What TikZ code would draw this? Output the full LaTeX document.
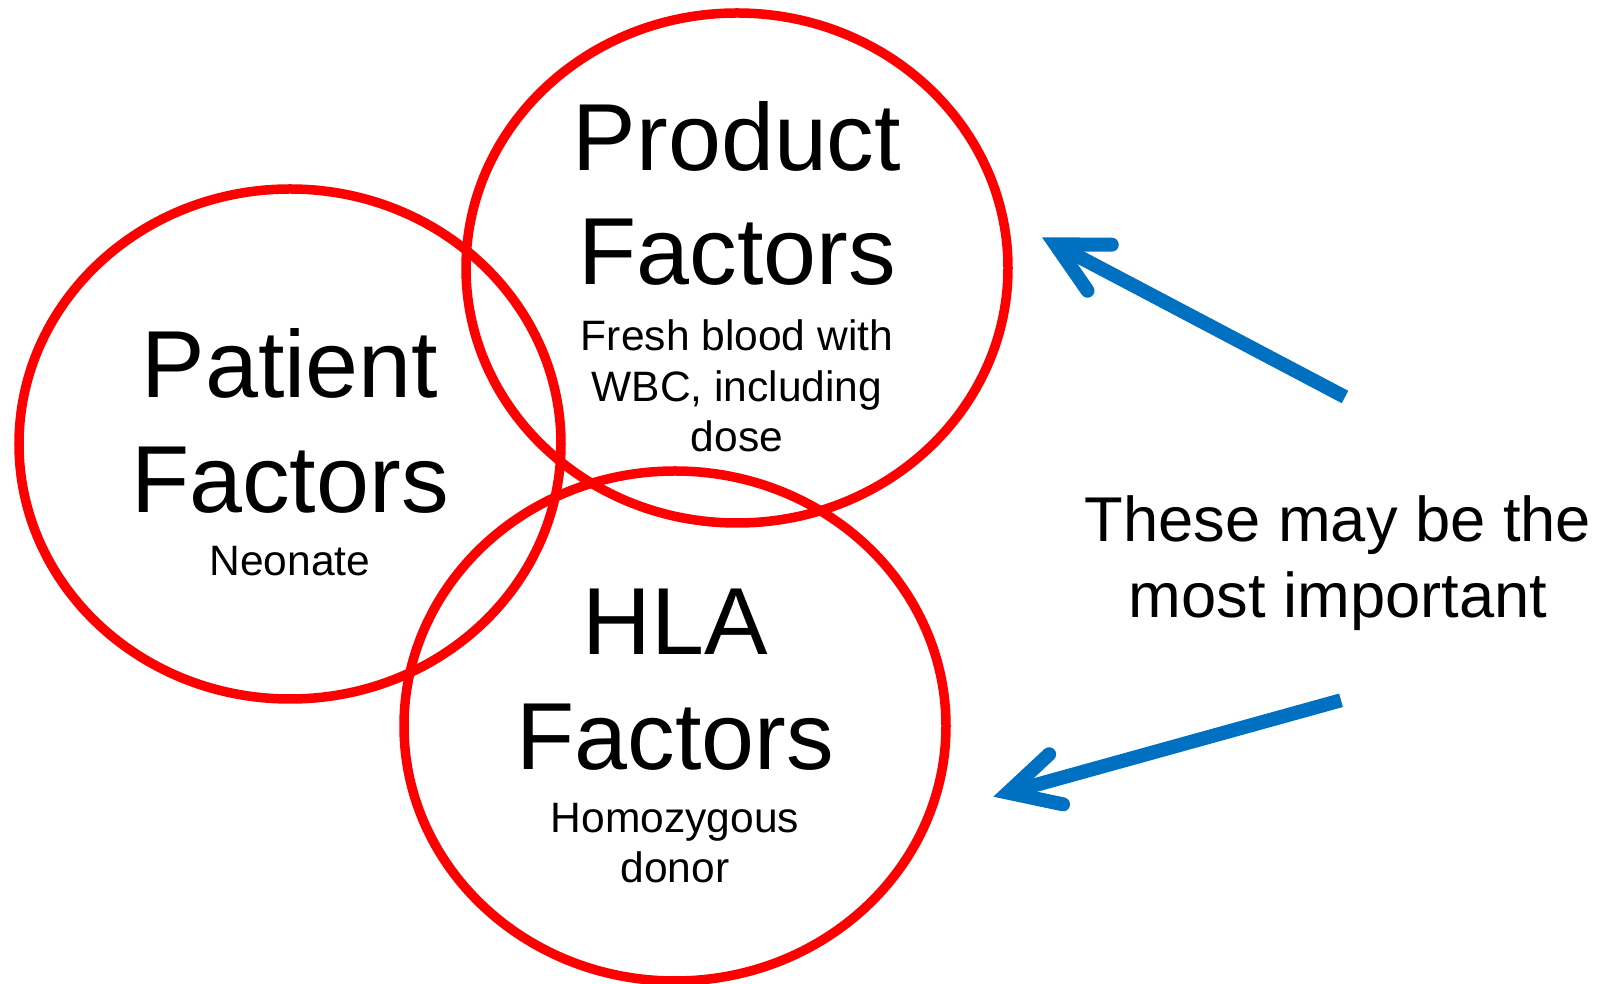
\documentclass[tikz,border=0pt]{standalone}
\usepackage{fontspec}
\setmainfont{Liberation Sans}
\usetikzlibrary{shapes.geometric,arrows.meta,calc}
\definecolor{arrowblue}{RGB}{0,112,192}

\begin{document}
\begin{tikzpicture}
[   factor/.style={ellipse,draw=red,line width=0.95mm,minimum width=5.42cm,minimum height=5.10cm},
    title/.style={anchor=base,align=center,inner sep=0,font=\fontsize{27.1}{32.7}\selectfont},
    detail/.style={anchor=base,align=center,inner sep=0,font=\fontsize{12.1}{14.4}\selectfont},
    pointer/.style={draw=arrowblue,line width=1.4mm,-{Straight Barb[length=5mm,width=5.2mm,line cap=round,line join=miter]}}
]
    \useasboundingbox (0,0) rectangle (16.04,9.84);
    \node[factor] (patient) at (2.90,5.40) {};
    \node[factor] (product) at (7.37,7.16) {};
    \node[factor] (hla) at (6.75,2.58) {};
    % node base is the last line, so offsets go to the last baseline
    \node[title] (patientname) at ($(patient.center)+(0,-0.687)$) {Patient\\Factors};
    \node[detail] (patientnote) at ($(patient.center)+(0,-1.32)$) {Neonate};
    \node[title] (productname) at ($(product.center)+(0,-0.17)$) {Product\\Factors};
    \node[detail] (productnote) at ($(product.center)+(0,-1.84)$) {Fresh blood with\\WBC, including\\dose};
    \node[title] (hlaname) at ($(hla.center)+(0,-0.433)$) {HLA\\Factors};
    \node[detail] (hlanote) at ($(hla.center)+(0,-1.57)$) {Homozygous\\donor};
    % remark on the right, with its two pointers
    \node[anchor=base,align=center,inner sep=0,font=\fontsize{18}{21.8}\selectfont] (remark) at (13.38,3.66) {These may be the\\most important};
    \coordinate (upfrom) at (13.45,5.87);
    \coordinate (upto) at (10.42,7.467);
    \coordinate (downfrom) at (13.41,2.837);
    \coordinate (downto) at (9.933,1.873);
    \draw[pointer] (upfrom) -- (upto);
    \draw[pointer] (downfrom) -- (downto);
\end{tikzpicture}
\end{document}
